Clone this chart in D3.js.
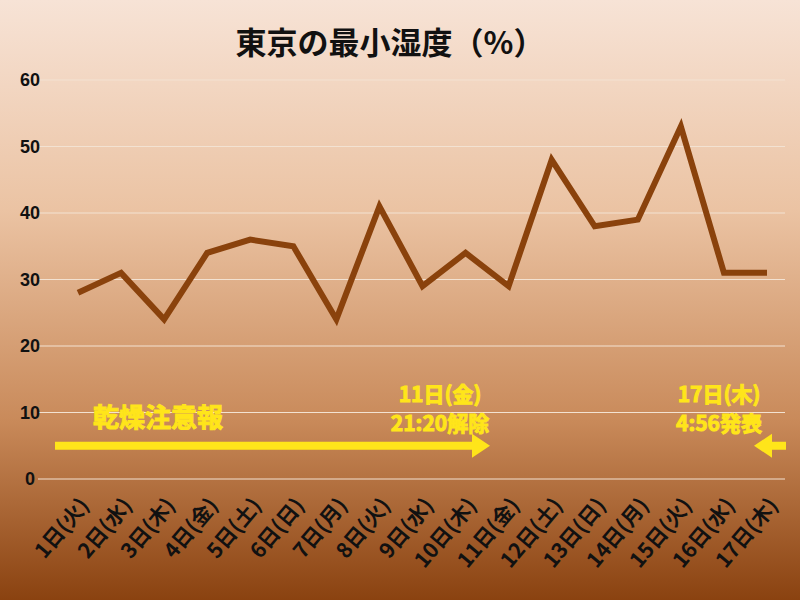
<!DOCTYPE html>
<html><head><meta charset="utf-8">
<script src="https://cdn.jsdelivr.net/npm/d3@7"></script>
<style>body{margin:0}svg{display:block}</style></head>
<body><svg id="c" width="800" height="600"></svg>
<script>
const days = ["1日(火)","2日(水)","3日(木)","4日(金)","5日(土)","6日(日)","7日(月)","8日(火)","9日(水)","10日(木)","11日(金)","12日(土)","13日(日)","14日(月)","15日(火)","16日(水)","17日(木)"];
const humidity = [28,31,24,34,36,35,24,41,29,34,29,48,38,39,53,31,31];
const yTicks = [0,10,20,30,40,50,60];

const svg = d3.select("#c");
const defs = svg.append("defs");
const g = defs.append("linearGradient").attr("id","bg").attr("x1",0).attr("y1",0).attr("x2",0).attr("y2",1);
[[0,"#f7e3d6"],[0.35,"#ebc3a3"],[0.7,"#c98a5a"],[1,"#8a4210"]].forEach(([o,c])=>g.append("stop").attr("offset",o).attr("stop-color",c));
svg.append("rect").attr("width",800).attr("height",600).attr("fill","url(#bg)");

const x = d3.scalePoint().domain(days).range([78,767]);
const y = d3.scaleLinear().domain([0,60]).range([479,80]);
const font = "'Noto Sans CJK JP', sans-serif";

svg.append("text").attr("x",390).attr("y",54).attr("text-anchor","middle")
  .attr("font-family",font).attr("font-weight",700).attr("font-size",31).attr("fill","#111").text("東京の最小湿度（%）");

svg.append("g").selectAll("line").data(yTicks).join("line")
  .attr("x1",38).attr("x2",785).attr("y1",d=>y(d)).attr("y2",d=>y(d))
  .attr("stroke","#f3e2d2").attr("stroke-width",1);
svg.append("g").selectAll("text").data(yTicks).join("text")
  .attr("x",30).attr("y",d=>y(d)+6).attr("text-anchor","middle")
  .attr("font-family","'Liberation Sans', sans-serif").attr("font-weight","bold").attr("font-size",18).attr("fill","#111").text(d=>d);

svg.append("path").datum(humidity)
  .attr("d",d3.line().x((d,i)=>x(days[i])).y(d=>y(d)))
  .attr("fill","none").attr("stroke","#8a420c").attr("stroke-width",6).attr("stroke-linejoin","miter");

svg.append("g").selectAll("text").data(days).join("text")
  .attr("transform",d=>`translate(${x(d)+12},${506}) rotate(-50)`)
  .attr("text-anchor","end").attr("font-family",font).attr("font-weight",700).attr("font-size",21).attr("fill","#111").text(d=>d);

// warning arrows
const yel = "#ffe51a", ay = y(5);
svg.append("rect").attr("x",55).attr("y",ay-4).attr("width",420).attr("height",8).attr("fill",yel);
svg.append("path").attr("d",`M472,${ay-12}L490,${ay}L472,${ay+12}Z`).attr("fill",yel);
svg.append("rect").attr("x",770).attr("y",ay-4).attr("width",16).attr("height",8).attr("fill",yel);
svg.append("path").attr("d",`M772,${ay-12}L754,${ay}L772,${ay+12}Z`).attr("fill",yel);

const lab = (t,xx,yy,fs,anchor)=>svg.append("text").attr("x",xx).attr("y",yy).attr("text-anchor",anchor)
  .attr("font-family",font).attr("font-weight",700).attr("font-size",fs).attr("fill",yel)
  .attr("stroke",yel).attr("stroke-width",1).text(t);
lab("乾燥注意報",93,427,26,"start");
lab("11日(金)",440,402,21,"middle");
lab("21:20解除",440,431,21,"middle");
lab("17日(木)",719,402,21,"middle");
lab("4:56発表",719,431,21,"middle");
</script></body></html>
